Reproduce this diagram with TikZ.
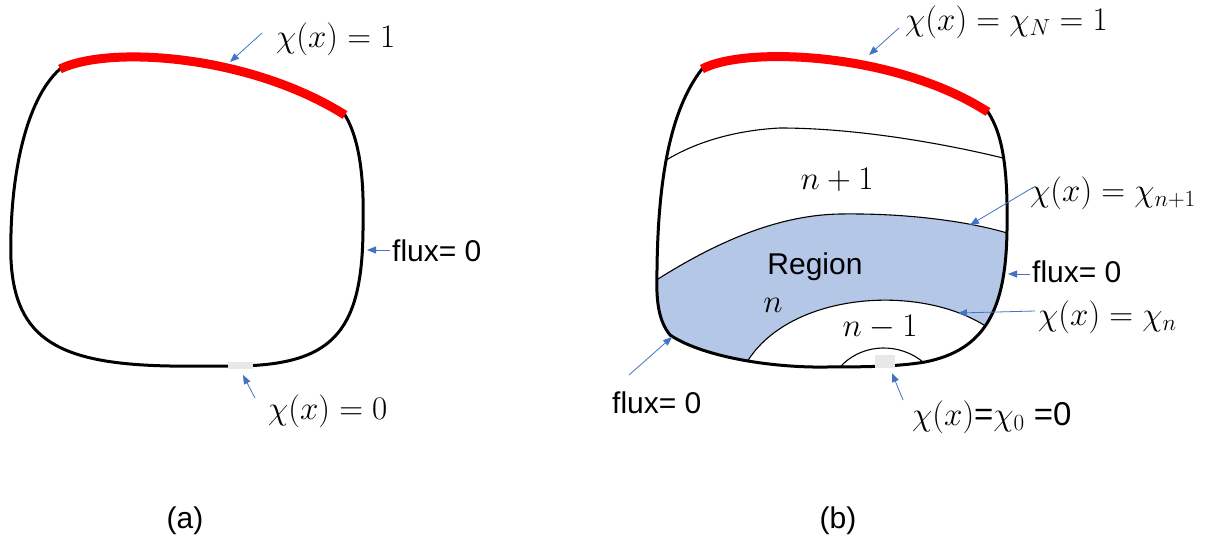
\RequirePackage{fix-cm}
\documentclass[tikz,border=0pt]{standalone}
\usepackage{fontspec}
\setsansfont{Liberation Sans}
\usetikzlibrary{arrows.meta}
\definecolor{fluxred}{RGB}{255,0,0}
\definecolor{regionblue}{RGB}{180,199,231}
\definecolor{arrowblue}{RGB}{68,114,196}
\definecolor{gapgrey}{RGB}{232,232,232}
\def\myoutlineA{(60,69) .. controls (110,45) and (250,55) .. (345,115)
  .. controls (360,140) and (364,180) .. (363,220)
  .. controls (364,330) and (335,364) .. (240,366)
  -- (170,366)
  .. controls (60,364) and (15,340) .. (11,260)
  .. controls (9,180) and (25,100) .. (60,69) -- cycle}
\def\myoutlineB{(702,69) .. controls (745,46) and (895,52) .. (988,112)
  .. controls (1003,135) and (1008,170) .. (1007,230)
  .. controls (1006,310) and (985,350) .. (925,362)
  .. controls (895,367) and (860,367) .. (813,367)
  .. controls (760,366) and (700,355) .. (670,335)
  .. controls (658,320) and (656,300) .. (657,270)
  .. controls (658,180) and (670,110) .. (702,69) -- cycle}
\tikzset{
  outline/.style={draw=black, line width=3pt, line join=round},
  redbc/.style={draw=fluxred, line width=9pt, line cap=butt},
  inner curve/.style={draw=black, line width=1.1pt},
  lblarrow/.style={draw=arrowblue, line width=0.8pt, -{Triangle[length=9pt,width=7pt]}},
  mathlbl/.style={font=\fontsize{33}{38}\selectfont, inner sep=0pt},
  sanslbl/.style={font=\sffamily\fontsize{30}{34}\selectfont, inner sep=0pt},
  gapbox/.style={fill=gapgrey, draw=none}
}
\begin{document}
\begin{tikzpicture}[x=1pt,y=-1pt]
\useasboundingbox (0,0) rectangle (1205,544);
\fill[white] (0,0) rectangle (1205,544);

% ---------------- (a) ----------------
\draw[outline] \myoutlineA;
\draw[redbc] (60,69) .. controls (110,45) and (250,55) .. (345,115);
\fill[gapbox] (228,362) rectangle (253,369);

\node[mathlbl, anchor=west] (la1) at (276,39) {$\chi(x) = 1$};
\node[sanslbl, anchor=west] (la2) at (392,251) {flux= 0};
\node[mathlbl, anchor=west] (la3) at (268,411) {$\chi(x) = 0$};
\node[sanslbl] (capa) at (185,521) {(a)};

\coordinate (sa1) at (262,33);  \coordinate (ta1) at (230,62);
\coordinate (sa2) at (390,250); \coordinate (ta2) at (367,250);
\coordinate (sa3) at (255,398); \coordinate (ta3) at (243,375);
\draw[lblarrow] (sa1) -- (ta1);
\draw[lblarrow] (sa2) -- (ta2);
\draw[lblarrow] (sa3) -- (ta3);

% ---------------- (b) ----------------
\begin{scope}
  \clip \myoutlineB;
  % region n
  \fill[regionblue] (650,283) .. controls (652,281) and (655,280) .. (658,279)
     .. controls (720,240) and (780,215) .. (840,214)
     .. controls (910,213) and (970,222) .. (1015,236)
     -- (1020,420) -- (640,420) -- cycle;
  % region n-1 (white)
  \fill[white] (742,370) -- (747,362) .. controls (790,292) and (920,283) .. (987,327)
     -- (1000,336) -- (1000,420) -- (740,420) -- cycle;
  % inner curves
  \draw[inner curve] (660,164) -- (668,159) .. controls (700,140) and (740,130) .. (780,128)
     .. controls (860,128) and (950,145) .. (1003,158) -- (1012,161);
  \draw[inner curve] (650,284) -- (658,279) .. controls (720,240) and (780,215) .. (840,214)
     .. controls (910,213) and (970,222) .. (1007,233) -- (1015,236);
  \draw[inner curve] (742,370) -- (747,362) .. controls (790,292) and (920,283) .. (987,327) -- (995,333);
  \draw[inner curve] (838,370) -- (843,364) .. controls (865,343) and (900,343) .. (923,362) -- (928,368);
\end{scope}
\draw[outline] \myoutlineB;
\draw[redbc] (702,69) .. controls (745,46) and (895,52) .. (988,112);
\fill[gapbox] (875,355) rectangle (895,368);

\node[mathlbl, anchor=west] (lb1) at (905,22) {$\chi(x) = \chi_N = 1$};
\node[mathlbl] (lb2) at (837,180) {$n+1$};
\node[mathlbl, anchor=west] (lb3) at (1030,193) {$\chi(x) = \chi_{n+1}$};
\node[sanslbl] (lb4) at (815,267) {Region};
\node[mathlbl] (lb5) at (773,305) {$n$};
\node[mathlbl] (lb6) at (880,327) {$n-1$};
\node[sanslbl, anchor=west] (lb7) at (1032,272) {flux= 0};
\node[mathlbl, anchor=west] (lb8) at (1038,317) {$\chi(x) = \chi_n$};
\node[sanslbl, anchor=west] (lb9) at (612,403) {flux= 0};
\node[mathlbl, anchor=west] (lb10) at (912,417) {$\chi(x)$\textsf{=}$\chi_0$\textsf{ =0}};
\node[sanslbl] (capb) at (838,521) {(b)};

\coordinate (sb1) at (899,28);   \coordinate (tb1) at (869,55);
\coordinate (sb3) at (1032,188); \coordinate (tb3) at (970,225);
\coordinate (sb7) at (1030,274); \coordinate (tb7) at (1008,274);
\coordinate (sb8) at (1035,311); \coordinate (tb8) at (958,313);
\coordinate (sb9) at (629,375);  \coordinate (tb9) at (672,337);
\coordinate (sb10) at (903,400); \coordinate (tb10) at (892,373);
\draw[lblarrow] (sb1) -- (tb1);
\draw[lblarrow] (sb3) -- (tb3);
\draw[lblarrow] (sb7) -- (tb7);
\draw[lblarrow] (sb8) -- (tb8);
\draw[lblarrow] (sb9) -- (tb9);
\draw[lblarrow] (sb10) -- (tb10);
\end{tikzpicture}
\end{document}
